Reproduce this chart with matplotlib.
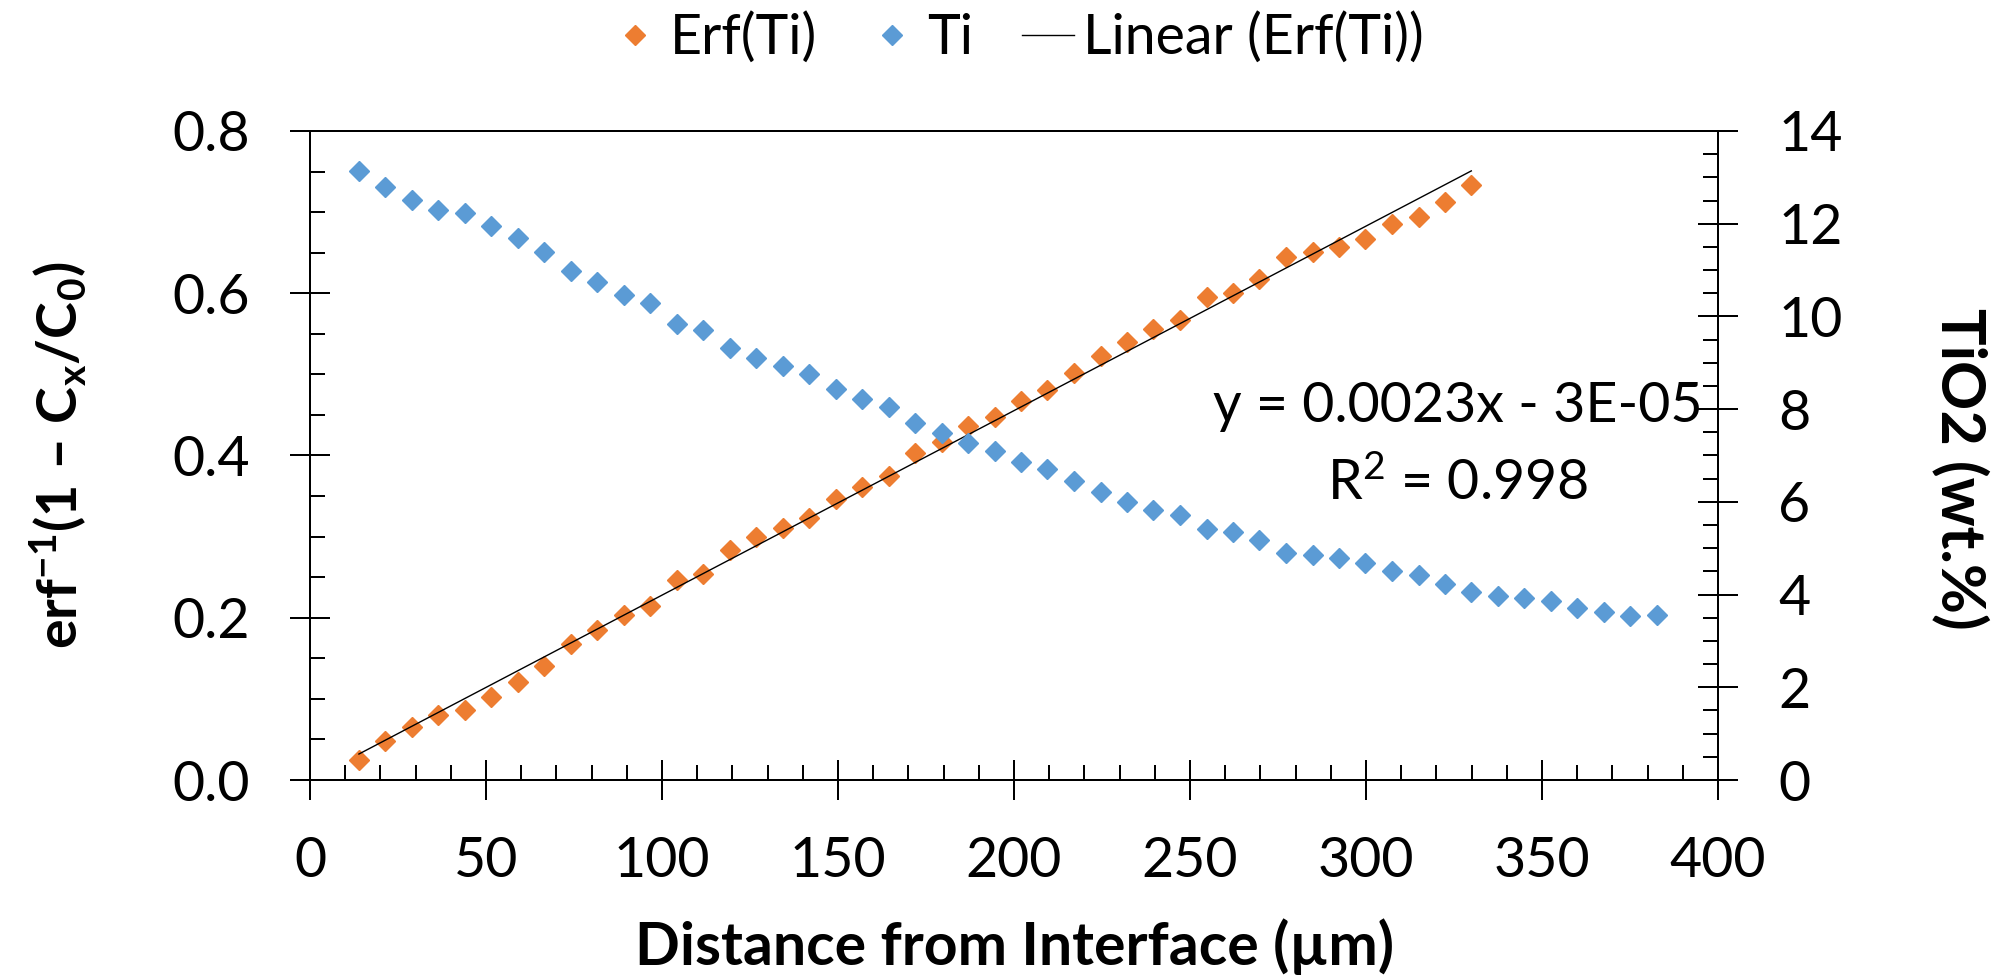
import numpy as np
import matplotlib.pyplot as plt
from matplotlib.ticker import MultipleLocator, FormatStrFormatter
from matplotlib.lines import Line2D

plt.rcParams['font.family'] = ['Lato', 'DejaVu Sans']
plt.rcParams['mathtext.fontset'] = 'custom'
plt.rcParams['mathtext.rm'] = 'Lato'
plt.rcParams['mathtext.bf'] = 'Lato:bold'
plt.rcParams['mathtext.it'] = 'Lato:italic'

# distance from interface (um), one value per analysis spot
distance = [13.9, 21.4, 29.0, 36.5, 44.0, 51.5, 59.1, 66.6, 74.1, 81.6,
            89.2, 96.7, 104.2, 111.7, 119.3, 126.8, 134.3, 141.8, 149.4, 156.9,
            164.4, 171.9, 179.4, 187.0, 194.5, 202.0, 209.5, 217.1, 224.6, 232.1,
            239.6, 247.2, 254.7, 262.2, 269.7, 277.3, 284.8, 292.3, 299.8, 307.4,
            314.9, 322.4, 329.9, 337.5, 345.0, 352.5, 360.0, 367.6, 375.1, 382.6]

# TiO2 wt.% (secondary axis)
ti = [13.14, 12.79, 12.51, 12.30, 12.22, 11.96, 11.69, 11.38, 10.97, 10.74,
      10.46, 10.29, 9.84, 9.71, 9.32, 9.10, 8.93, 8.76, 8.43, 8.22,
      8.05, 7.70, 7.49, 7.26, 7.09, 6.86, 6.70, 6.46, 6.21, 6.00,
      5.82, 5.72, 5.42, 5.36, 5.17, 4.90, 4.85, 4.78, 4.68, 4.50,
      4.43, 4.23, 4.05, 3.96, 3.93, 3.86, 3.72, 3.63, 3.53, 3.55]

# inverse erf values (first 43 spots only)
erf_ti = [0.025, 0.048, 0.065, 0.080, 0.086, 0.102, 0.121, 0.141, 0.168, 0.185,
          0.203, 0.214, 0.246, 0.254, 0.283, 0.299, 0.311, 0.323, 0.346, 0.361,
          0.375, 0.403, 0.417, 0.436, 0.448, 0.467, 0.481, 0.502, 0.523, 0.540,
          0.556, 0.567, 0.595, 0.600, 0.617, 0.645, 0.651, 0.657, 0.667, 0.685,
          0.694, 0.713, 0.733]

orange = '#ED7D31'
blue = '#5B9BD5'
fs = 40
lw = 1.44

fig = plt.figure(figsize=(20.05, 9.76), dpi=100)
ax = fig.add_axes([0.1546, 0.2008, 0.7023, 0.665])
ax2 = ax.twinx()

x_erf = np.array(distance[:len(erf_ti)])
ax.plot(x_erf, erf_ti, ls='none', marker='D', ms=10, color=orange)
coef = np.polyfit(x_erf, erf_ti, 1)
xs = np.array([x_erf[0], x_erf[-1]])
ax.plot(xs, np.polyval(coef, xs), color='black', lw=1)
ax2.plot(distance, ti, ls='none', marker='D', ms=10, color=blue)

ax.set_xlim(0, 400)
ax.set_ylim(0, 0.8)
ax2.set_ylim(0, 14)

ax.xaxis.set_major_locator(MultipleLocator(50))
ax.xaxis.set_minor_locator(MultipleLocator(10))
ax.yaxis.set_major_locator(MultipleLocator(0.2))
ax.yaxis.set_minor_locator(MultipleLocator(0.05))
ax.yaxis.set_major_formatter(FormatStrFormatter('%.1f'))
ax2.yaxis.set_major_locator(MultipleLocator(2))
ax2.yaxis.set_minor_locator(MultipleLocator(0.5))

for a in (ax, ax2):
    a.tick_params(which='major', direction='inout', length=28.8, width=lw,
                  labelsize=fs, pad=29)
    a.tick_params(which='minor', direction='in', length=10.8, width=lw)
    for s in a.spines.values():
        s.set_linewidth(lw)
ax.tick_params(axis='x', which='major', pad=26)

ax.set_xlabel('Distance from Interface (µm)', fontsize=42.5, fontweight='bold')
ax.xaxis.set_label_coords(0.5, -0.256)
ax.xaxis.label.set_va('center')

ax.set_ylabel(r'$\mathbf{erf^{-1}(1\ –\ C_x/C_0)}$', fontsize=fs)
ax.yaxis.set_label_coords(-0.179, 0.5)
ax.yaxis.label.set_va('center')

ax2.set_ylabel('TiO2 (wt.%)', fontsize=44, fontweight='bold', rotation=-90,
               va='center', ha='center', rotation_mode='anchor')
ax2.yaxis.set_label_coords(1.172, 0.48)

ax.text(0.815, 0.515, 'y = 0.0023x - 3E-05\nR$^{2}$ = 0.998', transform=ax.transAxes,
        ha='center', va='center', fontsize=fs, linespacing=1.6,
        multialignment='center')

handles = [Line2D([], [], ls='none', marker='D', ms=10, color=orange),
           Line2D([], [], ls='none', marker='D', ms=10, color=blue),
           Line2D([], [], color='black', lw=1)]
fig.legend(handles, ['Erf(Ti)', 'Ti', 'Linear (Erf(Ti))'], loc='center',
           bbox_to_anchor=(0.507, 0.961), ncol=3, frameon=False, fontsize=fs,
           handlelength=0.94, handletextpad=0.16, columnspacing=0.88,
           borderpad=0, borderaxespad=0)

fig.savefig('out.png', dpi=100)
